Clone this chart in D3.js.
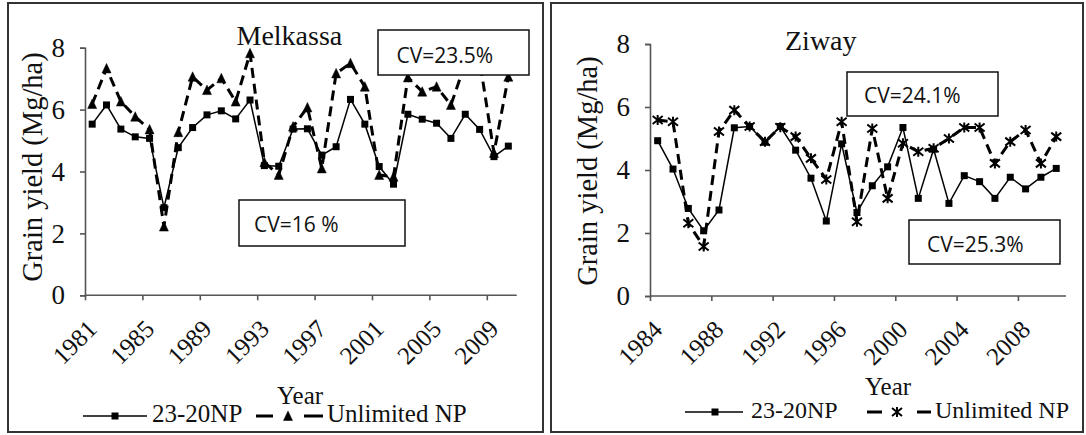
<!DOCTYPE html>
<html>
<head>
<meta charset="utf-8">
<script src="https://cdn.jsdelivr.net/npm/d3@7"></script>
<style>
  body { margin: 0; background: #fff; }
  svg { display: block; }
  text { fill: #111; }
</style>
</head>
<body>
<svg id="chart" width="1086" height="435"></svg>
<script>
// Grain yield (Mg/ha) under two fertiliser regimes, per season
const melkassaYears = [1981,1982,1983,1984,1985,1986,1987,1988,1989,1990,
                       1991,1992,1993,1994,1995,1996,1997,1998,1999,2000,
                       2001,2002,2003,2004,2005,2006,2007,2008,2009,2010];
const melkassaNP = [5.53,6.15,5.37,5.12,5.07,2.83,4.77,5.42,5.83,5.96,
                    5.70,6.31,4.19,4.17,5.37,5.38,4.53,4.80,6.33,5.53,
                    4.16,3.59,5.85,5.69,5.56,5.07,5.85,5.36,4.48,4.82];
const melkassaUnlimited = [6.18,7.33,6.26,5.77,5.36,2.22,5.27,7.06,6.63,7.01,
                           6.26,7.82,4.30,3.89,5.45,6.07,4.10,7.17,7.50,6.74,
                           3.89,3.83,7.04,6.58,6.74,6.15,7.50,7.60,4.60,7.06];
const melkassaTickYears = [1981,1985,1989,1993,1997,2001,2005,2009];

const ziwayYears = [1984,1985,1986,1987,1988,1989,1990,1991,1992,1993,
                    1994,1995,1996,1997,1998,1999,2000,2001,2002,2003,
                    2004,2005,2006,2007,2008,2009,2010];
const ziwayNP = [4.93,4.03,2.78,2.07,2.73,5.34,5.38,4.88,5.38,4.63,
                 3.74,2.38,4.83,2.65,3.50,4.10,5.35,3.10,4.66,2.94,
                 3.82,3.63,3.10,3.77,3.40,3.77,4.05];
const ziwayUnlimited = [5.59,5.53,2.31,1.57,5.22,5.90,5.38,4.90,5.36,5.06,
                        4.37,3.70,5.53,2.36,5.32,3.10,4.85,4.58,4.69,5.00,
                        5.35,5.35,4.21,4.90,5.27,4.21,5.06];
const ziwayTickYears = [1984,1988,1992,1996,2000,2004,2008];

const yTicks = [0, 2, 4, 6, 8];
const seriesNames = ["23-20NP", "Unlimited NP"];
const axisTitleX = "Year";
const axisTitleY = "Grain yield (Mg/ha)";

const SERIF = "'Liberation Serif', 'Times New Roman', serif";
const SANS = "'Open Sans', 'Liberation Sans', sans-serif";

const svg = d3.select("#chart");

// Marker shapes
function squarePath(s) {
  const h = s / 2;
  return `M${-h},${-h}H${h}V${h}H${-h}Z`;
}
function trianglePath(s) {
  const h = s / 2;
  return `M0,${-h - 0.5}L${h},${h}L${-h},${h}Z`;
}
function starPath(s) {
  const h = s / 2;
  return `M${-h},${-h * 0.8}L${h},${h * 0.8}M${h},${-h * 0.8}L${-h},${h * 0.8}M0,${-h}V${h}`;
}

function drawPanel(cfg) {
  const g = svg.append("g");

  // panel frame
  g.append("rect")
    .attr("x", cfg.frame[0]).attr("y", cfg.frame[1])
    .attr("width", cfg.frame[2] - cfg.frame[0])
    .attr("height", cfg.frame[3] - cfg.frame[1])
    .attr("fill", "none").attr("stroke", "#333").attr("stroke-width", 2);

  const n = cfg.years.length;
  const x = d3.scaleBand().domain(cfg.years)
    .range([cfg.x0, cfg.x0 + cfg.step * n]);
  const xEdge = d3.scaleLinear()
    .domain([cfg.years[0], cfg.years[n - 1] + 1])
    .range([cfg.x0, cfg.x0 + cfg.step * n]);
  const y = d3.scaleLinear().domain([0, 8]).range([cfg.yBottom, cfg.yTop]);
  const cx = d => x(d) + x.bandwidth() / 2;

  // y axis
  const yAxis = g.append("g")
    .attr("transform", `translate(${cfg.x0},0)`)
    .call(d3.axisLeft(y).tickValues(yTicks).tickSize(5).tickPadding(15));
  yAxis.select(".domain").attr("stroke", "#555").attr("stroke-width", 1.6);
  yAxis.selectAll(".tick line").attr("stroke", "#555").attr("stroke-width", 1.6);
  yAxis.selectAll(".tick text")
    .style("font-family", SERIF).style("font-size", "27px").attr("fill", "#111");

  // x axis: tick marks at category boundaries
  const xAxis = g.append("g")
    .attr("transform", `translate(0,${cfg.yBottom})`)
    .call(d3.axisBottom(xEdge).tickValues(cfg.tickYears).tickSize(5).tickFormat(""));
  xAxis.select(".domain").attr("stroke", "#555").attr("stroke-width", 1.6)
    .attr("d", `M${cfg.x0},0H${cfg.xEnd}`);
  xAxis.selectAll(".tick line").attr("stroke", "#555").attr("stroke-width", 1.6);

  // x axis: rotated year labels centred on their categories
  const xLab = g.append("g")
    .attr("transform", `translate(0,${cfg.yBottom})`)
    .call(d3.axisBottom(x).tickValues(cfg.tickYears).tickSize(0));
  xLab.select(".domain").remove();
  xLab.selectAll(".tick text")
    .style("font-family", SERIF).style("font-size", "25px").attr("fill", "#111")
    .attr("text-anchor", "end")
    .attr("dy", "0.35em")
    .attr("transform", `translate(${cfg.labDx},${cfg.labDy}) rotate(-45)`)
    .attr("y", 0);

  // axis titles
  g.append("text")
    .attr("transform", `translate(${cfg.yTitle[0]},${cfg.yTitle[1]}) rotate(-90)`)
    .attr("text-anchor", "middle")
    .style("font-family", SERIF).style("font-size", "28.5px")
    .text(axisTitleY);
  g.append("text")
    .attr("x", cfg.xTitle[0]).attr("y", cfg.xTitle[1])
    .style("font-family", SERIF).style("font-size", "25px")
    .text(axisTitleX);

  // panel title
  g.append("text")
    .attr("x", cfg.title[0]).attr("y", cfg.title[1])
    .style("font-family", SERIF).style("font-size", "28px")
    .text(cfg.name);

  // series
  const solid = d3.line().x((d, i) => cx(cfg.years[i])).y(d => y(d));

  g.append("path").datum(cfg.np)
    .attr("d", solid).attr("fill", "none")
    .attr("stroke", "#000").attr("stroke-width", 1.5);
  g.append("path").datum(cfg.unlimited)
    .attr("d", solid).attr("fill", "none")
    .attr("stroke", "#000").attr("stroke-width", 3)
    .attr("stroke-dasharray", "10,6");

  g.selectAll(".m-np").data(cfg.np).join("path")
    .attr("class", "m-np")
    .attr("transform", (d, i) => `translate(${cx(cfg.years[i])},${y(d)})`)
    .attr("d", squarePath(7)).attr("fill", "#000");

  const unMarker = cfg.marker === "tri" ? trianglePath(9) : starPath(10);
  g.selectAll(".m-un").data(cfg.unlimited).join("path")
    .attr("class", "m-un")
    .attr("transform", (d, i) => `translate(${cx(cfg.years[i])},${y(d)})`)
    .attr("d", unMarker)
    .attr("fill", "#000").attr("stroke", "#000")
    .attr("stroke-width", cfg.marker === "tri" ? 0.5 : 2);

  // CV annotation boxes
  cfg.boxes.forEach(b => {
    g.append("rect")
      .attr("x", b.x0).attr("y", b.y0)
      .attr("width", b.x1 - b.x0).attr("height", b.y1 - b.y0)
      .attr("fill", "#fff").attr("stroke", "#111").attr("stroke-width", 1.5);
    g.append("text")
      .attr("x", b.tx).attr("y", b.ty)
      .style("font-family", SANS).style("font-size", "21px")
      .attr("fill", "#222")
      .text(b.label);
  });

  // legend
  const L = cfg.legend;
  g.append("line").attr("x1", L.l1[0]).attr("x2", L.l1[1])
    .attr("y1", L.y).attr("y2", L.y)
    .attr("stroke", "#000").attr("stroke-width", 1.5);
  g.append("path").attr("transform", `translate(${L.m1},${L.y})`)
    .attr("d", squarePath(7)).attr("fill", "#000");
  g.append("text").attr("x", L.t1).attr("y", L.ty)
    .style("font-family", SERIF).style("font-size", L.fs + "px")
    .text(seriesNames[0]);

  [L.d1, L.d2].forEach(seg => {
    g.append("line").attr("x1", seg[0]).attr("x2", seg[1])
      .attr("y1", L.y).attr("y2", L.y)
      .attr("stroke", "#000").attr("stroke-width", 3);
  });
  g.append("path").attr("transform", `translate(${L.m2},${L.y})`)
    .attr("d", unMarker)
    .attr("fill", "#000").attr("stroke", "#000")
    .attr("stroke-width", cfg.marker === "tri" ? 0.5 : 2);
  g.append("text").attr("x", L.t2).attr("y", L.ty)
    .style("font-family", SERIF).style("font-size", L.fs + "px")
    .text(seriesNames[1]);
}

drawPanel({
  name: "Melkassa",
  years: melkassaYears, np: melkassaNP, unlimited: melkassaUnlimited,
  tickYears: melkassaTickYears, marker: "tri",
  frame: [8, 3, 543, 432],
  x0: 85, step: 14.35, xEnd: 516.7,
  yBottom: 295.3, yTop: 47.7,
  labDx: 0, labDy: 29,
  yTitle: [42, 167], xTitle: [277, 404], title: [236.5, 45],
  boxes: [
    { x0: 378, y0: 30, x1: 529, y1: 75, tx: 396.5, ty: 63, label: "CV=23.5%" },
    { x0: 239, y0: 200, x1: 405, y1: 246, tx: 254, ty: 232, label: "CV=16 %" }
  ],
  legend: { y: 416, ty: 422, fs: 25, l1: [83, 147], m1: 115, t1: 152,
            d1: [256, 273], m2: 288, d2: [304, 323], t2: 327 }
});

drawPanel({
  name: "Ziway",
  years: ziwayYears, np: ziwayNP, unlimited: ziwayUnlimited,
  tickYears: ziwayTickYears, marker: "star",
  frame: [551, 3, 1083, 432],
  x0: 650, step: 15.33, xEnd: 1066,
  yBottom: 296, yTop: 44,
  labDx: 0, labDy: 29,
  yTitle: [597, 171], xTitle: [865, 395], title: [785, 50],
  boxes: [
    { x0: 847, y0: 72, x1: 998, y1: 116, tx: 864, ty: 103, label: "CV=24.1%" },
    { x0: 909, y0: 220, x1: 1060, y1: 264, tx: 927, ty: 252, label: "CV=25.3%" }
  ],
  legend: { y: 412, ty: 418, fs: 24, l1: [685, 743], m1: 715, t1: 751,
            d1: [867, 882], m2: 897, d2: [917, 931], t2: 935 }
});
</script>
</body>
</html>
